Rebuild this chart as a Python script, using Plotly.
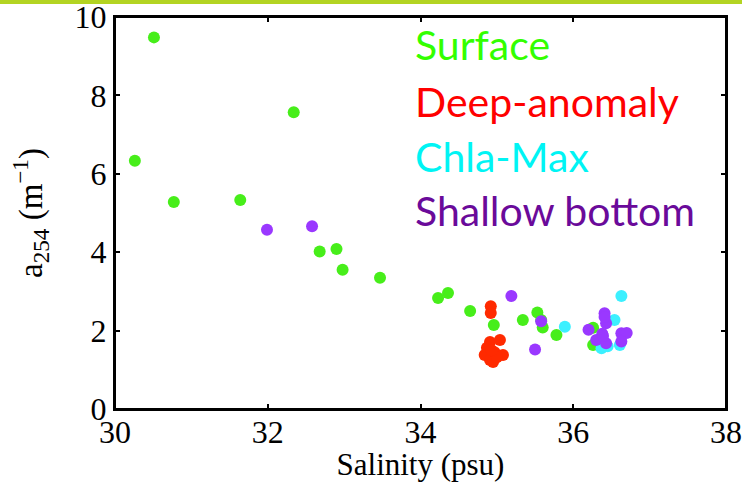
import plotly.graph_objects as go

# ---- data ----
surface_sal = [30.26, 30.51, 30.77, 31.64, 32.34, 32.68, 32.90, 32.98, 33.47, 34.23, 34.36,
               34.65, 34.96, 35.34, 35.53, 35.58, 35.60, 35.78, 36.26, 36.33, 36.26]
surface_a = [6.33, 9.48, 5.28, 5.33, 7.57, 4.02, 4.08, 3.55, 3.35, 2.83, 2.96,
             2.50, 2.14, 2.27, 2.46, 2.27, 2.08, 1.89, 2.07, 1.68, 1.63]

deep_sal = [34.92, 34.92, 34.91, 35.04, 34.87, 34.97, 34.84, 35.08, 34.91, 34.95, 35.00, 34.93]
deep_a = [2.62, 2.45, 1.71, 1.76, 1.56, 1.45, 1.38, 1.38, 1.25, 1.20, 1.32, 1.50]

chla_sal = [35.89, 36.63, 36.54, 36.37, 36.61, 36.45]
chla_a = [2.10, 2.88, 2.27, 1.55, 1.63, 1.60]

shallow_sal = [31.99, 32.58, 35.19, 35.58, 35.50, 36.20, 36.41, 36.43, 36.41, 36.38,
               36.30, 36.43, 36.63, 36.70, 36.63, 36.39]
shallow_a = [4.57, 4.66, 2.88, 2.24, 1.52, 2.02, 2.44, 2.19, 2.35, 1.92,
             1.76, 1.68, 1.93, 1.94, 1.72, 1.86]

legend_labels = ["Surface", "Deep-anomaly", "Chla-Max", "Shallow bottom"]
x_ticks = [30, 32, 34, 36, 38]
y_ticks = [0, 2, 4, 6, 8, 10]

marker_colors = ["#47ee1a", "#ff2a00", "#3cf0ff", "#9a38ff"]
text_colors = ["#33ff00", "#ff0000", "#00f4f4", "#6a0a9a"]

fig = go.Figure()
series = [(surface_sal, surface_a), (deep_sal, deep_a), (chla_sal, chla_a), (shallow_sal, shallow_a)]
for (xs, ys), name, col in zip(series, legend_labels, marker_colors):
    fig.add_trace(go.Scatter(x=xs, y=ys, mode="markers", name=name,
                             marker=dict(size=12, color=col, line=dict(width=0))))

W, H = 742, 482
ml, mr, mt, mb = 115, 16, 17, 73
pw, ph = W - ml - mr, H - mt - mb

def px_to_paper(px, py):
    return (px - ml) / pw, (H - mb - py) / ph

# legend text as annotations
text_y = [45, 101, 156, 210]
for lab, col, ty in zip(legend_labels, text_colors, text_y):
    xp, yp = px_to_paper(413, ty)
    fig.add_annotation(x=xp, y=yp, xref="paper", yref="paper", text=lab, showarrow=False,
                       xanchor="left", yanchor="middle",
                       font=dict(family="Lato", size=41, color=col))

# plot frame
fig.add_shape(type="rect", xref="paper", yref="paper", x0=0, x1=1, y0=0, y1=1,
              line=dict(color="black", width=2), layer="above")

# top green band
x0, y0 = px_to_paper(0, 4)
x1, y1 = px_to_paper(W, 0)
fig.add_shape(type="rect", xref="paper", yref="paper", x0=x0, x1=x1, y0=y0, y1=y1,
              fillcolor="#b3d422", line=dict(width=0), layer="above")

serif = "Liberation Serif"
axis_common = dict(showgrid=False, zeroline=False, showline=True, linecolor="black",
                   linewidth=2, mirror="ticks", ticks="inside", ticklen=5, tickwidth=1.5,
                   tickcolor="black", automargin=False, ticklabeloverflow="allow",
                   tickfont=dict(family=serif, size=32, color="black"))

fig.update_layout(
    width=W, height=H, margin=dict(l=ml, r=mr, t=mt, b=mb),
    paper_bgcolor="white", plot_bgcolor="white", showlegend=False,
    xaxis=dict(range=[30, 38], tickvals=x_ticks, ticktext=[str(v) for v in x_ticks],
               ticklabelstandoff=-6,
               title=dict(text="Salinity (psu)", standoff=0,
                          font=dict(family=serif, size=31, color="black")),
               **axis_common),
    yaxis=dict(range=[0, 10], tickvals=y_ticks, ticktext=[str(v) for v in y_ticks],
               title=dict(text="a<sub>254</sub> (m<sup>−1</sup>)", standoff=22,
                          font=dict(family=serif, size=33, color="black")),
               **axis_common),
)

fig.write_html("out.html")
